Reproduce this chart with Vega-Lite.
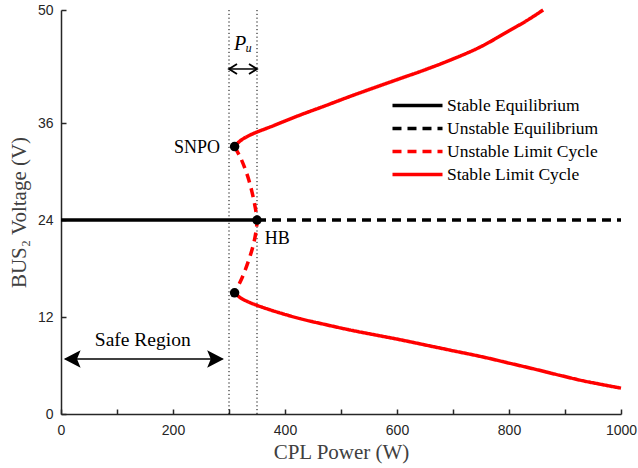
{
  "$schema": "https://vega.github.io/schema/vega-lite/v6.json",
  "width": 560,
  "height": 404,
  "autosize": "none",
  "padding": {"left": 61, "top": 10, "right": 17, "bottom": 54},
  "background": "white",
  "config": {"view": {"stroke": null}},
  "datasets": {
    "curves": [
      {"series": "Stable Equilibrium", "branch": "se", "ord": 0, "x": 0, "y": 24},
      {"series": "Stable Equilibrium", "branch": "se", "ord": 1, "x": 350, "y": 24},
      {"series": "Unstable Equilibrium", "branch": "ue", "ord": 0, "x": 350, "y": 24},
      {"series": "Unstable Equilibrium", "branch": "ue", "ord": 1, "x": 1000, "y": 24},
      {"series": "Unstable Limit Cycle", "branch": "ulc", "ord": 0, "x": 310, "y": 33.1},
      {"series": "Unstable Limit Cycle", "branch": "ulc", "ord": 1, "x": 322, "y": 31.5},
      {"series": "Unstable Limit Cycle", "branch": "ulc", "ord": 2, "x": 333, "y": 29.5},
      {"series": "Unstable Limit Cycle", "branch": "ulc", "ord": 3, "x": 341, "y": 27.5},
      {"series": "Unstable Limit Cycle", "branch": "ulc", "ord": 4, "x": 347, "y": 25.5},
      {"series": "Unstable Limit Cycle", "branch": "ulc", "ord": 5, "x": 350, "y": 24},
      {"series": "Unstable Limit Cycle", "branch": "ulc", "ord": 6, "x": 348, "y": 22.5},
      {"series": "Unstable Limit Cycle", "branch": "ulc", "ord": 7, "x": 343, "y": 20.8},
      {"series": "Unstable Limit Cycle", "branch": "ulc", "ord": 8, "x": 335, "y": 19},
      {"series": "Unstable Limit Cycle", "branch": "ulc", "ord": 9, "x": 323, "y": 16.8},
      {"series": "Unstable Limit Cycle", "branch": "ulc", "ord": 10, "x": 310, "y": 15.0},
      {"series": "Stable Limit Cycle", "branch": "up", "ord": 0, "x": 310, "y": 33.1},
      {"series": "Stable Limit Cycle", "branch": "up", "ord": 1, "x": 320, "y": 33.8},
      {"series": "Stable Limit Cycle", "branch": "up", "ord": 2, "x": 337, "y": 34.5},
      {"series": "Stable Limit Cycle", "branch": "up", "ord": 3, "x": 380, "y": 35.7},
      {"series": "Stable Limit Cycle", "branch": "up", "ord": 4, "x": 427, "y": 37.0},
      {"series": "Stable Limit Cycle", "branch": "up", "ord": 5, "x": 470, "y": 38.1},
      {"series": "Stable Limit Cycle", "branch": "up", "ord": 6, "x": 516, "y": 39.3},
      {"series": "Stable Limit Cycle", "branch": "up", "ord": 7, "x": 560, "y": 40.4},
      {"series": "Stable Limit Cycle", "branch": "up", "ord": 8, "x": 605, "y": 41.5},
      {"series": "Stable Limit Cycle", "branch": "up", "ord": 9, "x": 650, "y": 42.6},
      {"series": "Stable Limit Cycle", "branch": "up", "ord": 10, "x": 695, "y": 43.8},
      {"series": "Stable Limit Cycle", "branch": "up", "ord": 11, "x": 748, "y": 45.4},
      {"series": "Stable Limit Cycle", "branch": "up", "ord": 12, "x": 802, "y": 47.5},
      {"series": "Stable Limit Cycle", "branch": "up", "ord": 13, "x": 832, "y": 48.7},
      {"series": "Stable Limit Cycle", "branch": "up", "ord": 14, "x": 861, "y": 50.0},
      {"series": "Stable Limit Cycle", "branch": "lo", "ord": 0, "x": 310, "y": 15.0},
      {"series": "Stable Limit Cycle", "branch": "lo", "ord": 1, "x": 320, "y": 14.4},
      {"series": "Stable Limit Cycle", "branch": "lo", "ord": 2, "x": 337, "y": 13.8},
      {"series": "Stable Limit Cycle", "branch": "lo", "ord": 3, "x": 373, "y": 12.9},
      {"series": "Stable Limit Cycle", "branch": "lo", "ord": 4, "x": 427, "y": 11.8},
      {"series": "Stable Limit Cycle", "branch": "lo", "ord": 5, "x": 470, "y": 11.1},
      {"series": "Stable Limit Cycle", "branch": "lo", "ord": 6, "x": 516, "y": 10.4},
      {"series": "Stable Limit Cycle", "branch": "lo", "ord": 7, "x": 560, "y": 9.8},
      {"series": "Stable Limit Cycle", "branch": "lo", "ord": 8, "x": 605, "y": 9.2},
      {"series": "Stable Limit Cycle", "branch": "lo", "ord": 9, "x": 650, "y": 8.55},
      {"series": "Stable Limit Cycle", "branch": "lo", "ord": 10, "x": 695, "y": 7.9},
      {"series": "Stable Limit Cycle", "branch": "lo", "ord": 11, "x": 754, "y": 7.05},
      {"series": "Stable Limit Cycle", "branch": "lo", "ord": 12, "x": 800, "y": 6.3},
      {"series": "Stable Limit Cycle", "branch": "lo", "ord": 13, "x": 843, "y": 5.6},
      {"series": "Stable Limit Cycle", "branch": "lo", "ord": 14, "x": 890, "y": 4.8},
      {"series": "Stable Limit Cycle", "branch": "lo", "ord": 15, "x": 933, "y": 4.1},
      {"series": "Stable Limit Cycle", "branch": "lo", "ord": 16, "x": 1000, "y": 3.2}
    ],
    "dots": [
      {"x": 310, "y": 33.1},
      {"x": 350, "y": 24},
      {"x": 310, "y": 15.0}
    ],
    "vlines": [
      {"x": 300, "y": 0, "y2": 50},
      {"x": 350, "y": 0, "y2": 50}
    ],
    "arrows": [
      {"name": "pu", "x": 300, "x2": 350, "y": 42.7},
      {"name": "safe", "x": 8, "x2": 288, "y": 6.8}
    ],
    "heads": [
      {"name": "pu", "x": 300, "y": 42.7, "shape": "M1.6,-1L0,0L1.6,1"},
      {"name": "pu", "x": 350, "y": 42.7, "shape": "M-1.6,-1L0,0L-1.6,1"},
      {"name": "safe", "x": 5, "y": 6.8, "shape": "M0,0L4.2,-2.2L3.3,0L4.2,2.2Z"},
      {"name": "safe", "x": 291, "y": 6.8, "shape": "M0,0L-4.2,-2.2L-3.3,0L-4.2,2.2Z"}
    ]
  },
  "layer": [
    {
      "data": {"name": "vlines"},
      "mark": {"type": "rule", "color": "black", "strokeWidth": 1, "strokeDash": [1.2, 2.6]},
      "encoding": {
        "x": {"field": "x", "type": "quantitative"},
        "y": {"field": "y", "type": "quantitative"},
        "y2": {"field": "y2"}
      }
    },
    {
      "data": {"name": "curves"},
      "mark": {"type": "line", "strokeWidth": 3.5, "strokeCap": "butt", "interpolate": "catmull-rom"},
      "encoding": {
        "x": {
          "field": "x", "type": "quantitative",
          "scale": {"domain": [0, 1000], "nice": false},
          "axis": {
            "title": "CPL Power (W)",
            "values": [0, 100, 200, 300, 400, 500, 600, 700, 800, 900, 1000],
            "labelExpr": "datum.value % 200 === 0 ? datum.label : ''",
            "format": "d",
            "grid": false,
            "domainColor": "#262626",
            "domainWidth": 1.5,
            "tickColor": "#262626",
            "tickWidth": 1.5,
            "tickSize": -5,
            "labelPadding": 14,
            "labelFont": "Liberation Sans",
            "labelFontSize": 14,
            "labelColor": "#262626",
            "labelFlush": false,
            "titleFont": "Liberation Serif",
            "titleFontSize": 21,
            "titleFontWeight": "normal",
            "titleColor": "#404040",
            "titlePadding": 4
          }
        },
        "y": {
          "field": "y", "type": "quantitative",
          "scale": {"domain": [0, 50], "nice": false},
          "axis": {
            "title": "BUS₂ Voltage (V)",
            "values": [0, 12, 24, 36, 50],
            "grid": false,
            "domainColor": "#262626",
            "domainWidth": 1.5,
            "tickColor": "#262626",
            "tickWidth": 1.5,
            "tickSize": -5,
            "labelPadding": 13,
            "labelFont": "Liberation Sans",
            "labelFontSize": 14,
            "labelColor": "#262626",
            "labelFlush": false,
            "titleFont": "Liberation Serif",
            "titleFontSize": 21,
            "titleFontWeight": "normal",
            "titleColor": "#404040",
            "titlePadding": 8
          }
        },
        "color": {
          "field": "series", "type": "nominal",
          "scale": {
            "domain": ["Stable Equilibrium", "Unstable Equilibrium", "Unstable Limit Cycle", "Stable Limit Cycle"],
            "range": ["black", "black", "red", "red"]
          },
          "legend": {
            "title": null,
            "orient": "none",
            "legendX": 346,
            "legendY": 85,
            "symbolType": "M-3,0L3,0",
            "symbolSize": 278,
            "symbolStrokeWidth": 3.5,
            "labelFont": "Liberation Serif",
            "labelFontSize": 17.5,
            "labelColor": "black",
            "labelOffset": 19,
            "rowPadding": 4
          }
        },
        "strokeDash": {
          "field": "series", "type": "nominal",
          "scale": {
            "domain": ["Stable Equilibrium", "Unstable Equilibrium", "Unstable Limit Cycle", "Stable Limit Cycle"],
            "range": [[1, 0], [9, 6], [9, 6], [1, 0]]
          },
          "legend": {
            "title": null,
            "orient": "none",
            "legendX": 346,
            "legendY": 85,
            "symbolType": "M-3,0L3,0",
            "symbolSize": 278,
            "symbolStrokeWidth": 3.5,
            "labelFont": "Liberation Serif",
            "labelFontSize": 17.5,
            "labelColor": "black",
            "labelOffset": 19,
            "rowPadding": 4
          }
        },
        "detail": {"field": "branch"},
        "order": {"field": "ord", "type": "quantitative"}
      }
    },
    {
      "data": {"name": "dots"},
      "mark": {"type": "point", "filled": true, "color": "black", "size": 90, "opacity": 1},
      "encoding": {
        "x": {"field": "x", "type": "quantitative"},
        "y": {"field": "y", "type": "quantitative"}
      }
    },
    {
      "data": {"values": [{"text": "SNPO", "x": 284, "y": 32.9}]},
      "mark": {"type": "text", "font": "Liberation Serif", "fontSize": 18, "color": "black", "baseline": "middle", "align": "right"},
      "encoding": {
        "x": {"field": "x", "type": "quantitative"},
        "y": {"field": "y", "type": "quantitative"},
        "text": {"field": "text"}
      }
    },
    {
      "data": {"values": [{"text": "HB", "x": 364, "y": 21.7}]},
      "mark": {"type": "text", "font": "Liberation Serif", "fontSize": 18, "color": "black", "baseline": "middle", "align": "left"},
      "encoding": {
        "x": {"field": "x", "type": "quantitative"},
        "y": {"field": "y", "type": "quantitative"},
        "text": {"field": "text"}
      }
    },
    {
      "data": {"name": "arrows"},
      "mark": {"type": "rule", "color": "black", "strokeWidth": 1.5},
      "encoding": {
        "x": {"field": "x", "type": "quantitative"},
        "x2": {"field": "x2"},
        "y": {"field": "y", "type": "quantitative"}
      }
    },
    {
      "data": {"name": "heads"},
      "transform": [{"filter": "datum.name === 'pu'"}],
      "mark": {"type": "point", "filled": false, "color": "black", "strokeWidth": 1.8, "size": 100, "opacity": 1},
      "encoding": {
        "x": {"field": "x", "type": "quantitative"},
        "y": {"field": "y", "type": "quantitative"},
        "shape": {"field": "shape", "type": "nominal", "scale": null, "legend": null}
      }
    },
    {
      "data": {"name": "heads"},
      "transform": [{"filter": "datum.name === 'safe'"}],
      "mark": {"type": "point", "filled": true, "color": "black", "size": 64, "opacity": 1},
      "encoding": {
        "x": {"field": "x", "type": "quantitative"},
        "y": {"field": "y", "type": "quantitative"},
        "shape": {"field": "shape", "type": "nominal", "scale": null, "legend": null}
      }
    },
    {
      "data": {"values": [{"text": "Safe Region", "x": 146, "y": 9.1}]},
      "mark": {"type": "text", "font": "Liberation Serif", "fontSize": 19.5, "color": "black", "baseline": "middle", "align": "center"},
      "encoding": {
        "x": {"field": "x", "type": "quantitative"},
        "y": {"field": "y", "type": "quantitative"},
        "text": {"field": "text"}
      }
    },
    {
      "data": {"values": [{"text": "Pᵤ", "x": 325, "y": 45.8}]},
      "mark": {"type": "text", "font": "Liberation Serif", "fontSize": 20, "fontStyle": "italic", "color": "black", "baseline": "middle", "align": "center"},
      "encoding": {
        "x": {"field": "x", "type": "quantitative"},
        "y": {"field": "y", "type": "quantitative"},
        "text": {"field": "text"}
      }
    }
  ]
}
